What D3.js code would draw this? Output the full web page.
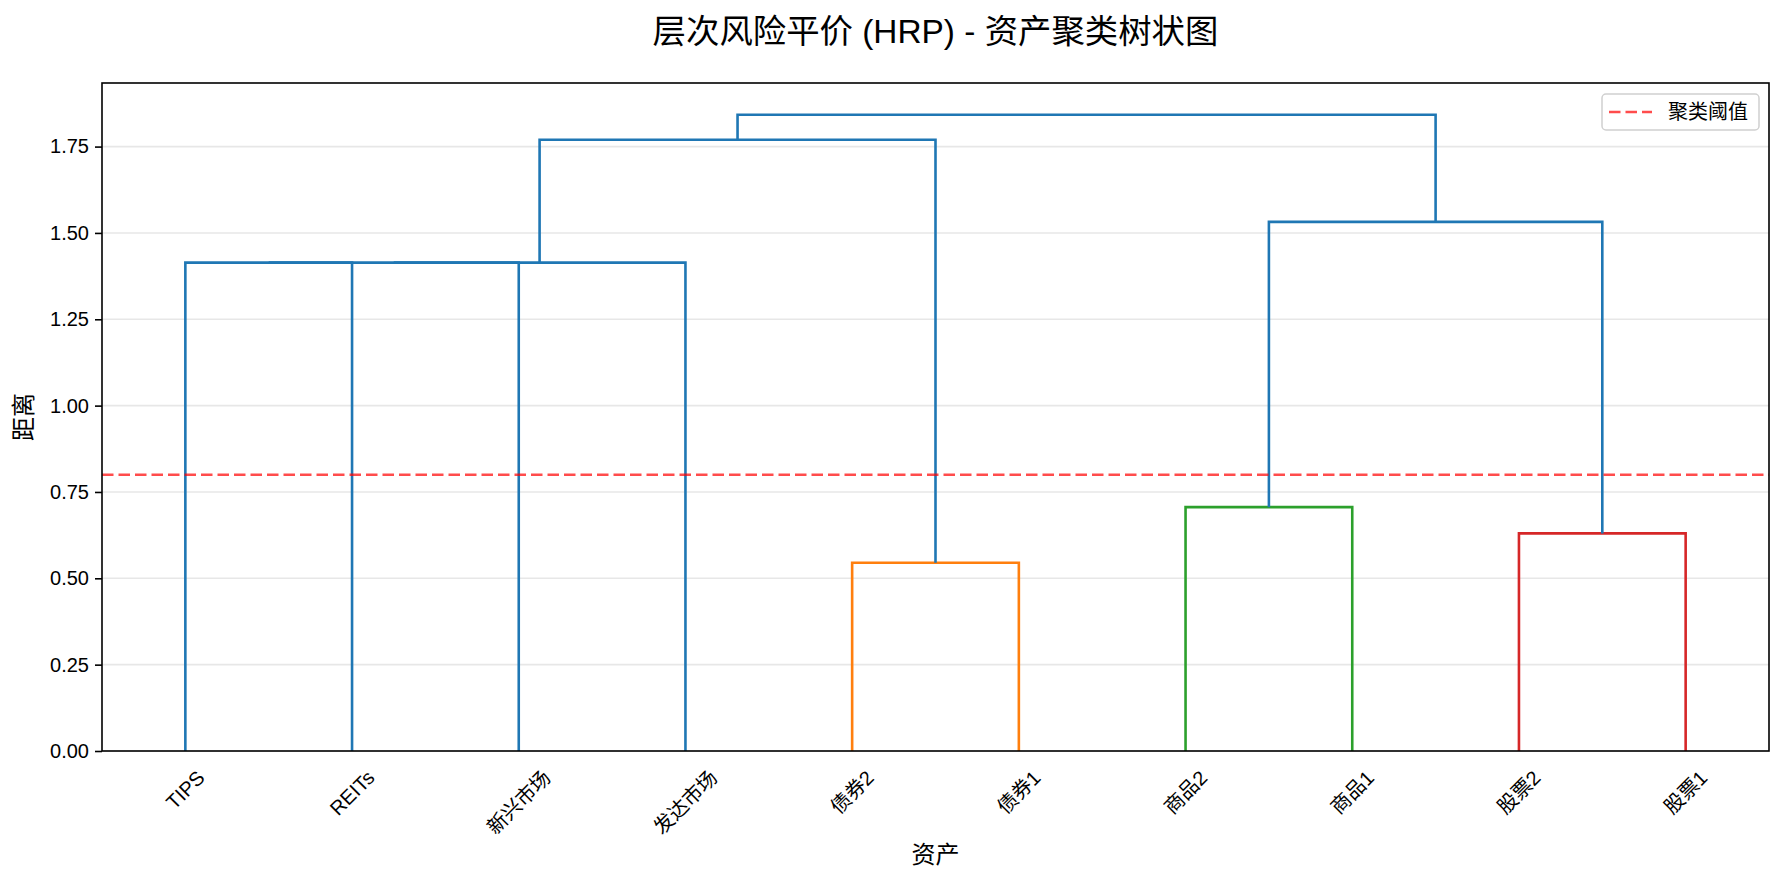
<!DOCTYPE html>
<html>
<head>
<meta charset="utf-8">
<script src="https://cdn.jsdelivr.net/npm/d3@7"></script>
<style>
  body { margin: 0; background: #fff; }
  text { font-family: "Liberation Sans", "Noto Sans CJK SC", sans-serif; fill: #000; }
</style>
</head>
<body>
<div id="chart"></div>
<script>
// leaves in dendrogram order
const leafLabels = ['TIPS', 'REITs', '新兴市场', '发达市场', '债券2', '债券1', '商品2', '商品1', '股票2', '股票1']
// linkage rows: [left id, right id, distance]; new cluster ids start at 10
const linkLeft = [4, 8, 6, 0, 13, 14, 12, 15, 17]
const linkRight = [5, 9, 7, 1, 2, 3, 11, 10, 16]
const linkHeight = [0.545, 0.630, 0.706, 1.414, 1.414, 1.414, 1.532, 1.770, 1.842]
const yTicks = [0, 0.25, 0.5, 0.75, 1.0, 1.25, 1.5, 1.75]
const threshold = 0.8
const clusterPalette = ['#ff7f0e', '#2ca02c', '#d62728', '#9467bd', '#8c564b']
const aboveColor = '#1f77b4'

const W = 1784, H = 884
const margin = {top: 83, right: 15, bottom: 133, left: 102}
const width = W - margin.left - margin.right
const height = H - margin.top - margin.bottom

const svg = d3.select('#chart').append('svg')
  .attr('width', W).attr('height', H)

svg.append('text')
  .attr('x', margin.left + width / 2).attr('y', 31)
  .attr('text-anchor', 'middle').attr('dominant-baseline', 'central')
  .style('font-size', '33.4px')
  .text('层次风险平价 (HRP) - 资产聚类树状图')

const g = svg.append('g').attr('transform', `translate(${margin.left},${margin.top})`)

const x = d3.scalePoint().domain(leafLabels).range([0, width]).padding(0.5)
const y = d3.scaleLinear().domain([0, d3.max(linkHeight) * 1.05]).range([height, 0])

// grid
g.append('g').selectAll('line').data(yTicks).join('line')
  .attr('x1', 0).attr('x2', width)
  .attr('y1', d => y(d)).attr('y2', d => y(d))
  .attr('stroke', '#b0b0b0').attr('stroke-opacity', 0.3).attr('stroke-width', 1.6)

// node positions
const n = leafLabels.length
const nodeX = leafLabels.map(d => x(d))
const nodeH = leafLabels.map(() => 0)
linkHeight.forEach((h, i) => {
  nodeX.push((nodeX[linkLeft[i]] + nodeX[linkRight[i]]) / 2)
  nodeH.push(h)
})

// colour clusters like scipy (default cut 0.7 * max), left to right
const colorCut = 0.7 * d3.max(linkHeight)
const linkColor = linkHeight.map(() => aboveColor)
let ci = 0
const paint = (id, c) => {
  if (id < n) return
  const i = id - n
  if (!c && linkHeight[i] < colorCut) {
    c = clusterPalette[ci % clusterPalette.length]
    ci++
  }
  if (c) linkColor[i] = c
  paint(linkLeft[i], c)
  paint(linkRight[i], c)
}
paint(n + linkHeight.length - 1, null)

const links = linkHeight.map((h, i) => ({
  x1: nodeX[linkLeft[i]], h1: nodeH[linkLeft[i]],
  x2: nodeX[linkRight[i]], h2: nodeH[linkRight[i]],
  h: h, color: linkColor[i]
}))

g.append('g').selectAll('path').data(links).join('path')
  .attr('d', d => `M${d.x1},${y(d.h1)}V${y(d.h)}H${d.x2}V${y(d.h2)}`)
  .attr('fill', 'none')
  .attr('stroke', d => d.color)
  .attr('stroke-width', 2.6)

// threshold
g.append('line')
  .attr('x1', 0).attr('x2', width)
  .attr('y1', y(threshold)).attr('y2', y(threshold))
  .attr('stroke', '#ff0000').attr('stroke-opacity', 0.7)
  .attr('stroke-width', 2.6).attr('stroke-dasharray', '11.5,5')

// y axis
const yAxis = g.append('g')
  .call(d3.axisLeft(y).tickValues(yTicks).tickFormat(d3.format('.2f')).tickSize(7).tickPadding(6))
yAxis.select('.domain').remove()
yAxis.selectAll('line').attr('stroke', '#000').attr('stroke-width', 1.6)
yAxis.selectAll('text').style('font-size', '20px').attr('font-family', null)

// x labels rotated 45, bbox centred on leaf
const xl = g.append('g')
leafLabels.forEach(d => {
  const t = xl.append('text')
    .attr('text-anchor', 'middle').attr('dominant-baseline', 'central')
    .style('font-size', '20px')
    .text(d)
  const w = t.node().getComputedTextLength()
  const bh = (w + 20) * Math.SQRT1_2
  t.attr('transform', `translate(${x(d)},${height + 16 + bh / 2}) rotate(-45)`)
})

// frame
g.append('rect')
  .attr('width', width).attr('height', height)
  .attr('fill', 'none').attr('stroke', '#000').attr('stroke-width', 1.6)

// axis titles
svg.append('text')
  .attr('x', margin.left + width / 2).attr('y', 854)
  .attr('text-anchor', 'middle').attr('dominant-baseline', 'central')
  .style('font-size', '24px').text('资产')
svg.append('text')
  .attr('transform', `translate(23,${margin.top + height / 2}) rotate(-90)`)
  .attr('text-anchor', 'middle').attr('dominant-baseline', 'central')
  .style('font-size', '24px').text('距离')

// legend
const lg = svg.append('g').attr('transform', 'translate(1602,94)')
lg.append('rect')
  .attr('width', 157).attr('height', 36).attr('rx', 4)
  .attr('fill', '#fff').attr('fill-opacity', 0.8)
  .attr('stroke', '#d0d0d0').attr('stroke-width', 1.5)
lg.append('line')
  .attr('x1', 7).attr('x2', 50).attr('y1', 18).attr('y2', 18)
  .attr('stroke', '#ff0000').attr('stroke-opacity', 0.7)
  .attr('stroke-width', 2.6).attr('stroke-dasharray', '11.5,5')
lg.append('text')
  .attr('x', 66).attr('y', 18).attr('dominant-baseline', 'central')
  .style('font-size', '20px').text('聚类阈值')
</script>
</body>
</html>
